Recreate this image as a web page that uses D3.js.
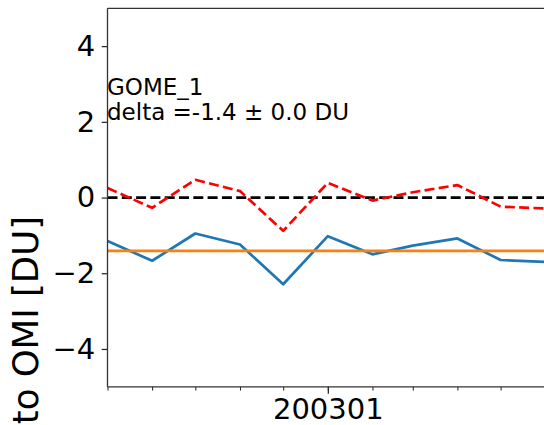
<!DOCTYPE html>
<html>
<head>
<meta charset="utf-8">
<script src="https://cdn.jsdelivr.net/npm/d3@7"></script>
<style>
  html, body { margin: 0; padding: 0; background: #fff; }
  svg { display: block; font-family: "DejaVu Sans", sans-serif; }
</style>
</head>
<body>
<svg id="chart" width="544" height="425"></svg>
<script>
// ---- data ----
const months = ["2002-08", "2002-09", "2002-10", "2002-11", "2002-12", "2003-01",
                "2003-02", "2003-03", "2003-04", "2003-05", "2003-06"];
const diffValues = [-1.15, -1.67, -0.95, -1.24, -2.29, -1.02, -1.50, -1.27, -1.08, -1.65, -1.70];
const correctedValues = [0.25, -0.27, 0.47, 0.17, -0.88, 0.39, -0.08, 0.14, 0.33, -0.24, -0.29];
const deltaValue = -1.41;
const zeroValue = 0;
const yTicks = [-4, -2, 0, 2, 4];
const yDomain = [-5, 5];
const xDomain = ["2002-08-01", "2003-08-01"];
const majorTickDates = ["2003-01-01"];
const annotationLines = ["GOME_1", "delta =-1.4 \u00b1 0.0 DU"];
const yLabel = "Difference to OMI [DU]";

// ---- layout ----
const svg = d3.select("#chart");
const axLeft = 107.5, axTop = 8.3, axBottom = 386.8;
const pxPerDay = 1.44;
const parseMonth = d3.utcParse("%Y-%m");
const parseDay = d3.utcParse("%Y-%m-%d");
const d0 = parseDay(xDomain[0]), d1 = parseDay(xDomain[1]);
const nDays = (d1 - d0) / 86400000;

const x = d3.scaleUtc().domain([d0, d1]).range([axLeft, axLeft + nDays * pxPerDay]);
const y = d3.scaleLinear().domain(yDomain).range([axBottom, axTop]);

const defs = svg.append("defs");
defs.append("clipPath").attr("id", "clip")
  .append("rect").attr("x", axLeft).attr("y", axTop).attr("width", 700).attr("height", axBottom - axTop);

const plot = svg.append("g").attr("clip-path", "url(#clip)");
const line = d3.line().x(d => x(d[0])).y(d => y(d[1]));
const dates = months.map(parseMonth);

// blue difference line
plot.append("path")
  .datum(dates.map((d, i) => [d, diffValues[i]]))
  .attr("d", line).attr("fill", "none")
  .attr("stroke", "#1f77b4").attr("stroke-width", 2.7)
  .attr("stroke-linejoin", "round").attr("stroke-linecap", "square");

// orange mean delta
plot.append("line")
  .attr("x1", x(d0)).attr("x2", x(d1))
  .attr("y1", y(deltaValue)).attr("y2", y(deltaValue))
  .attr("stroke", "#ff7f0e").attr("stroke-width", 2.7);

// black dashed zero
plot.append("line")
  .attr("x1", x(d0)).attr("x2", x(d1))
  .attr("y1", y(zeroValue)).attr("y2", y(zeroValue))
  .attr("stroke", "#000").attr("stroke-width", 2.7)
  .attr("stroke-dasharray", "10,4.3");

// red dashed corrected line
plot.append("path")
  .datum(dates.map((d, i) => [d, correctedValues[i]]))
  .attr("d", line).attr("fill", "none")
  .attr("stroke", "#ff0000").attr("stroke-width", 2.7)
  .attr("stroke-dasharray", "10,4.3")
  .attr("stroke-linejoin", "round");

// ---- axes ----
const yAxis = d3.axisLeft(y).tickValues(yTicks).tickSize(5.8).tickPadding(6.5)
  .tickFormat(d => (d < 0 ? "\u2212" + Math.abs(d) : String(d)));
const gy = svg.append("g").attr("transform", `translate(${axLeft},0)`).call(yAxis);
gy.select(".domain").remove();
gy.selectAll(".tick line").attr("stroke", "#222").attr("stroke-width", 1.2);
gy.selectAll(".tick text").attr("font-size", 29).attr("fill", "#000")
  .attr("font-family", "DejaVu Sans");

// minor monthly ticks
const minorAxis = d3.axisBottom(x).ticks(d3.utcMonth.every(1)).tickSize(3.8).tickFormat("");
const gxm = svg.append("g").attr("transform", `translate(0,${axBottom})`).call(minorAxis);
gxm.select(".domain").remove();
gxm.selectAll(".tick line").attr("stroke", "#222").attr("stroke-width", 1.0);

// major ticks
const majorAxis = d3.axisBottom(x).tickValues(majorTickDates.map(parseDay))
  .tickSize(7).tickPadding(5).tickFormat(d3.utcFormat("%Y%m"));
const gx = svg.append("g").attr("transform", `translate(0,${axBottom})`).call(majorAxis);
gx.select(".domain").remove();
gx.selectAll(".tick line").attr("stroke", "#222").attr("stroke-width", 1.2);
gx.selectAll(".tick text").attr("font-size", 29).attr("fill", "#000")
  .attr("font-family", "DejaVu Sans");

// spines
svg.append("path")
  .attr("d", `M${axLeft},${axTop}H${x(d1)}M${axLeft},${axTop}V${axBottom}M${axLeft},${axBottom}H${x(d1)}`)
  .attr("fill", "none").attr("stroke", "#333").attr("stroke-width", 1.3);

// annotation
const ann = svg.append("text").attr("x", 107).attr("y", 95)
  .attr("font-size", 23).attr("fill", "#000");
annotationLines.forEach((t, i) => {
  ann.append("tspan").attr("x", 107).attr("y", 95 + i * 24.5).text(t);
});

// y label
svg.append("text")
  .attr("transform", "translate(38,216) rotate(-90)")
  .attr("text-anchor", "end")
  .attr("font-size", 35.5).attr("fill", "#000")
  .text(yLabel);
</script>
</body>
</html>
